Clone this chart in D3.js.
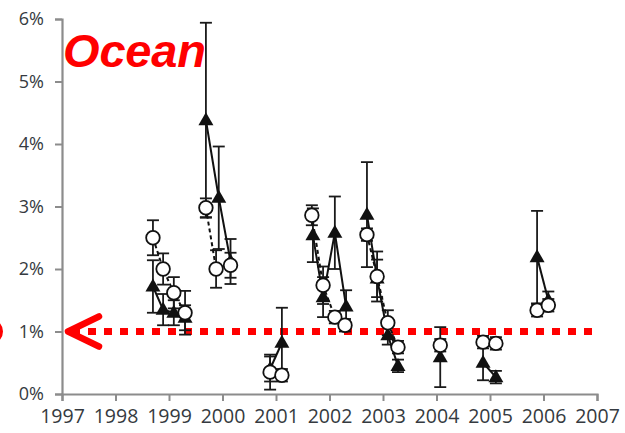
<!DOCTYPE html>
<html>
<head>
<meta charset="utf-8">
<script src="https://cdn.jsdelivr.net/npm/d3@7"></script>
<style>
  body { margin: 0; background: #fff; }
  svg { display: block; }
</style>
</head>
<body>
<div class="chart"></div>
<script>
// Data (values in %)
const circleYears  = [1998.70, 1998.89, 1999.09, 1999.30, 1999.69, 1999.88, 2000.15, 2000.89, 2001.11,
                      2001.67, 2001.88, 2002.10, 2002.29, 2002.70, 2002.89, 2003.09, 2003.28,
                      2004.07, 2004.87, 2005.11, 2005.88, 2006.09];
const circleValues = [2.50, 2.00, 1.62, 1.30, 2.98, 2.00, 2.06, 0.35, 0.30,
                      2.86, 1.74, 1.23, 1.10, 2.55, 1.88, 1.14, 0.75,
                      0.78, 0.83, 0.81, 1.34, 1.42];
const circleErrors = [0.28, 0.25, 0.25, 0.35, 0.15, 0.30, 0.20, 0.28, 0.10,
                      0.16, 0.30, 0.10, 0.10, 0.10, 0.40, 0.20, 0.10,
                      0.10, 0.10, 0.10, 0.10, 0.10];
const circleGroups = [0, 0, 0, 0, 1, 1, 1, 2, 2, 3, 3, 3, 3, 4, 4, 4, 4, 5, 6, 6, 7, 7];

const triangleYears  = [1998.70, 1998.89, 1999.09, 1999.30, 1999.69, 1999.93, 2000.15, 2000.89, 2001.11,
                        2001.69, 2001.88, 2002.10, 2002.31, 2002.70, 2002.89, 2003.09, 2003.28,
                        2004.07, 2004.87, 2005.11, 2005.88, 2006.09];
const triangleValues = [1.72, 1.35, 1.30, 1.22, 4.38, 3.14, 2.12, 0.40, 0.82,
                        2.54, 1.55, 2.58, 1.40, 2.87, 1.85, 0.94, 0.45,
                        0.59, 0.50, 0.27, 2.19, 1.50];
const triangleErrors = [0.42, 0.25, 0.20, 0.20, 1.56, 0.82, 0.36, 0.20, 0.56,
                        0.43, 0.32, 0.58, 0.26, 0.84, 0.30, 0.15, 0.10,
                        0.48, 0.28, 0.10, 0.74, 0.14];
const triangleGroups = [0, 0, 0, 0, 1, 1, 1, 2, 2, 3, 3, 3, 3, 4, 4, 4, 4, 5, 6, 6, 7, 7];

const yearTicks = [1997, 1998, 1999, 2000, 2001, 2002, 2003, 2004, 2005, 2006, 2007];
const pctTicks = [0, 1, 2, 3, 4, 5, 6];
const targetLevel = 1;
const title = 'Ocean';

const width = 625, height = 433;
const svg = d3.select('.chart').append('svg')
    .attr('width', width)
    .attr('height', height);

const x = d3.scaleLinear().domain([1997, 2007]).range([62, 597]);
const y = d3.scaleLinear().domain([0, 6]).range([394, 19]);

function toPoints(years, values, errors, groups) {
    return years.map((yr, i) => ({x: yr, y: values[i], e: errors[i], g: groups[i]}));
}
const circles = toPoints(circleYears, circleValues, circleErrors, circleGroups);
const triangles = toPoints(triangleYears, triangleValues, triangleErrors, triangleGroups);

// Axes
const axisColor = '#8c8c8c';
const yAxis = d3.axisLeft(y).tickValues(pctTicks).tickFormat(d => d + '%').tickSize(7).tickPadding(11);
const xAxis = d3.axisBottom(x).tickValues(yearTicks).tickFormat(d3.format('d')).tickSize(7).tickPadding(8);

const gy = svg.append('g').attr('transform', `translate(${x(1997)},0)`).call(yAxis);
const gx = svg.append('g').attr('transform', `translate(0,${y(0)})`).call(xAxis);
[gx, gy].forEach(g => {
    g.select('.domain').attr('stroke', axisColor).attr('stroke-width', 2.2);
    g.selectAll('.tick line').attr('stroke', axisColor).attr('stroke-width', 2);
    g.selectAll('.tick text')
        .attr('fill', '#353a40')
        .style('font-family', '"Open Sans", "Liberation Sans", sans-serif');
});
gy.selectAll('.tick text').style('font-size', '18px');
gx.selectAll('.tick text').style('font-size', '19.5px');

// Red target line and arrow
const red = '#ff0000';
svg.append('line')
    .attr('x1', 72).attr('x2', 593)
    .attr('y1', y(targetLevel)).attr('y2', y(targetLevel))
    .attr('stroke', red)
    .attr('stroke-width', 7)
    .attr('stroke-dasharray', '8 8');

svg.append('path')
    .attr('d', `M99,${y(targetLevel) - 15} L68,${y(targetLevel)} L99,${y(targetLevel) + 15}`)
    .attr('fill', 'none')
    .attr('stroke', red)
    .attr('stroke-width', 6.5)
    .attr('stroke-linecap', 'round')
    .attr('stroke-linejoin', 'round');

svg.append('circle')
    .attr('cx', -10).attr('cy', y(targetLevel))
    .attr('r', 10.5)
    .attr('fill', 'none')
    .attr('stroke', red)
    .attr('stroke-width', 5);

// Title
svg.append('text')
    .attr('x', 63).attr('y', 67)
    .attr('fill', red)
    .style('font-family', '"Liberation Sans", Arial, sans-serif')
    .style('font-weight', 'bold')
    .style('font-style', 'italic')
    .style('font-size', '47px')
    .attr('textLength', 143)
    .text(title);

// Error bars
function drawErrors(data) {
    const g = svg.append('g').attr('stroke', '#1a1a1a').attr('stroke-width', 1.8);
    g.selectAll('line.v').data(data).enter().append('line')
        .attr('x1', d => x(d.x)).attr('x2', d => x(d.x))
        .attr('y1', d => y(d.y - d.e)).attr('y2', d => y(d.y + d.e));
    [-1, 1].forEach(s => {
        g.selectAll(null).data(data).enter().append('line')
            .attr('x1', d => x(d.x) - 6).attr('x2', d => x(d.x) + 6)
            .attr('y1', d => y(d.y + s * d.e)).attr('y2', d => y(d.y + s * d.e));
    });
}
drawErrors(triangles);
drawErrors(circles);

// Connecting lines
const line = d3.line().x(d => x(d.x)).y(d => y(d.y));
function drawLines(data, dash) {
    const groups = d3.groups(data, d => d.g).map(d => d[1]).filter(d => d.length > 1);
    svg.append('g').selectAll('path').data(groups).enter().append('path')
        .attr('d', line)
        .attr('fill', 'none')
        .attr('stroke', '#111')
        .attr('stroke-width', 2)
        .attr('stroke-dasharray', dash);
}
drawLines(circles, '4 3');
drawLines(triangles, null);

// Markers
svg.append('g').selectAll('path').data(triangles).enter().append('path')
    .attr('transform', d => `translate(${x(d.x)},${y(d.y)})`)
    .attr('d', 'M0,-8 L7.5,5 L-7.5,5 Z')
    .attr('fill', '#111');

svg.append('g').selectAll('circle').data(circles).enter().append('circle')
    .attr('cx', d => x(d.x)).attr('cy', d => y(d.y))
    .attr('r', 6.8)
    .attr('fill', '#fff')
    .attr('stroke', '#111')
    .attr('stroke-width', 1.8);
</script>
</body>
</html>
